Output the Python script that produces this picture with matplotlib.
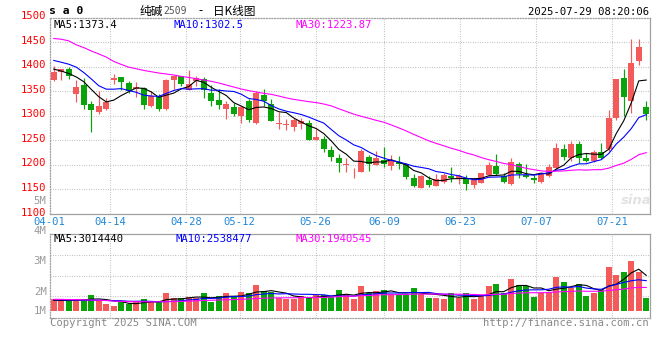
import numpy as np
import pandas as pd
import matplotlib
matplotlib.use("Agg")
import matplotlib.pyplot as plt

# ---------------- data ----------------
tick_labels = ['04-01', '04-14', '04-28', '05-12', '05-26', '06-09', '06-23', '07-07', '07-21']
tick_idx = [0, 8, 18, 25, 35, 44, 54, 64, 74]

opens = [1373, 1389, 1395, 1345, 1363, 1324.5, 1307, 1314, 1373, 1379,
         1367, 1354, 1356, 1320, 1339, 1314, 1373, 1380, 1353, 1370,
         1375, 1346, 1331, 1314, 1318, 1299, 1329, 1284, 1343, 1324.5,
         1282.5, 1280, 1276, 1283, 1284, 1250, 1253, 1229.5, 1212.5, 1200,
         1184, 1185, 1214.6, 1199, 1208.5, 1197, 1205.8, 1200.3, 1172, 1151.5,
         1167.8, 1156.3, 1165, 1176.6, 1171, 1169.8, 1158.3, 1163, 1178.6, 1196.3,
         1176.6, 1161, 1201.7, 1178.6, 1172, 1165, 1176.6, 1193.6, 1231, 1214,
         1241, 1214, 1207, 1226, 1231, 1295.3, 1376.7, 1329.2, 1410.7, 1317.7]
highs = [1402, 1396, 1399, 1373, 1377, 1329, 1350, 1335, 1386, 1379,
         1371, 1369, 1358, 1350, 1344, 1375, 1383, 1381, 1394, 1380,
         1378, 1363, 1354, 1329, 1326, 1320, 1334, 1350, 1354, 1333,
         1307, 1293, 1295, 1295, 1290, 1272, 1258, 1238, 1222, 1214,
         1192, 1232, 1218.7, 1227, 1235, 1218.7, 1217, 1203.7, 1180, 1178.6,
         1176.6, 1180, 1183.4, 1195, 1180, 1178.6, 1173, 1182, 1205.8, 1220.7,
         1182, 1212.6, 1205.8, 1200.3, 1178.6, 1183.4, 1200.3, 1244.4, 1241, 1247.8,
         1249, 1222.7, 1228.8, 1244.4, 1311, 1374.7, 1395, 1456, 1456, 1330.6]
lows = [1370, 1373, 1375, 1327, 1314, 1266, 1304, 1311, 1365, 1353,
        1346, 1337, 1314, 1317, 1309, 1312, 1355, 1360, 1353, 1360,
        1335, 1319, 1314, 1294, 1299, 1284, 1287, 1282, 1320, 1289,
        1272, 1270, 1268, 1272, 1251, 1250, 1225, 1207, 1185, 1185,
        1173, 1185, 1187, 1199, 1195, 1188, 1191.5, 1170, 1154, 1151.5,
        1155, 1156.3, 1163, 1164, 1161, 1148, 1151.5, 1161.7, 1176.6, 1178.6,
        1163, 1158.3, 1172, 1172, 1161.7, 1163, 1174.6, 1190, 1209.2, 1207,
        1202.4, 1205, 1205.8, 1210.5, 1227.5, 1292, 1298.7, 1305.5, 1404, 1290.6]
closes = [1390, 1395, 1380, 1359, 1322, 1312, 1320, 1327, 1377, 1369,
          1351, 1359, 1322, 1341, 1314, 1373, 1380, 1365, 1365, 1377,
          1353, 1329, 1322, 1324.5, 1304, 1318, 1291, 1346, 1329, 1289,
          1285, 1282, 1290, 1288.5, 1251, 1256, 1231, 1215, 1202.5, 1201,
          1185.5, 1227.5, 1200.3, 1212.5, 1200.3, 1208.5, 1200.3, 1174.6, 1155.6, 1176,
          1158.3, 1170.5, 1178.6, 1172, 1176.6, 1159.6, 1168.5, 1182, 1199, 1180,
          1164.4, 1205.8, 1181.3, 1175.3, 1168.5, 1181.3, 1195.6, 1233, 1216, 1243,
          1214, 1207, 1226, 1214, 1295.3, 1374.7, 1337.4, 1407.3, 1439.8, 1304]
# volume, millions of lots
volumes = [0.88, 0.73, 0.73, 0.88, 0.88, 1.27, 0.82, 0.46, 0.29, 0.61,
           0.43, 0.70, 0.91, 0.61, 0.61, 1.44, 0.97, 0.97, 1.06, 0.97,
           1.44, 0.67, 1.18, 1.44, 1.06, 1.56, 1.44, 2.16, 1.62, 1.50,
           0.97, 0.91, 0.91, 1.18, 1.06, 1.27, 1.27, 1.06, 1.71, 1.36,
           0.88, 2.07, 1.41, 1.62, 1.71, 1.36, 1.27, 1.27, 1.89, 1.36,
           1.03, 1.03, 0.88, 1.41, 0.97, 1.41, 0.91, 1.18, 2.07, 2.25,
           1.41, 2.69, 2.16, 2.07, 1.12, 1.41, 1.47, 2.87, 2.45, 1.86,
           2.25, 1.18, 1.41, 1.71, 3.79, 3.05, 3.34, 4.30, 3.34, 1.03]

# moving-average values before enough history is visible
ma5_head = [1395, 1391, 1386, 1379]
ma10_head = [1412.7, 1409, 1405, 1399, 1388, 1375, 1361, 1354, 1354]
ma30_head = [1457.5, 1456, 1452.7, 1444.6, 1439, 1432, 1426, 1419.5, 1410.7, 1404.5,
             1399, 1395.7, 1392.3, 1389.6, 1387, 1385, 1383, 1380, 1378, 1375.4,
             1372.7, 1370, 1366.6, 1362.5, 1358.4, 1354.3, 1351, 1348.2, 1345.5]
vma5_head = [0.80, 0.78, 0.78, 0.80]
vma10_head = [0.85, 0.84, 0.82, 0.82, 0.80, 0.80, 0.79, 0.78, 0.76]
vma30_head = [0.88, 0.88, 0.86, 0.85, 0.84, 0.82, 0.80, 0.78, 0.72, 0.70,
              0.68, 0.67, 0.67, 0.66, 0.66, 0.67, 0.68, 0.70, 0.72, 0.75,
              0.78, 0.80, 0.82, 0.84, 0.86, 0.88, 0.92, 0.95, 0.98]

price_ticks = [1100, 1150, 1200, 1250, 1300, 1350, 1400, 1450, 1500]
vol_tick_labels = ['5M', '4M', '3M', '2M', '1M']

title_name = '纯碱'
title_code = '2509'
title_dash = '-'
title_rest = '日K线图'
symbol = 's a 0'
stamp = '2025-07-29 08:20:06'
price_ma_text = ['MA5:1373.4', 'MA10:1302.5', 'MA30:1223.87']
vol_ma_text = ['MA5:3014440', 'MA10:2538477', 'MA30:1940545']

# ---------------- helpers ----------------
def ma(series, n, head):
    s = pd.Series(series, dtype=float).rolling(n).mean().to_numpy()
    s[:len(head)] = head
    return s

W, H = 660, 360
RED = '#f55a5a'
GREEN = '#0aa30a'
GRID = '#b4b4b4'
FRAME = '#a0a0a0'
MONO = 'DejaVu Sans Mono'
CJK = ['Noto Sans CJK SC', 'DejaVu Sans']

fig = plt.figure(figsize=(W / 100, H / 100), dpi=100)
fig.patch.set_facecolor('white')

def rect(l, t, r, b):
    return [l / W, 1 - b / H, (r - l) / W, (b - t) / H]

def T(x, y, s, **kw):
    kw.setdefault('family', MONO)
    kw.setdefault('fontsize', 7.6)
    kw.setdefault('va', 'center')
    fig.text(x / W, 1 - y / H, s, **kw)

ax = fig.add_axes(rect(50, 17.7, 650, 213.5))
axv = fig.add_axes(rect(50, 234.3, 650, 317.7))

n = len(closes)
x = np.arange(n)
o = np.array(opens, float); c = np.array(closes, float)
hi = np.array(highs, float); lo = np.array(lows, float)
up = c >= o
cols = np.where(up, RED, GREEN)

# date grid: sina spreads the date grid over (n-1) slots
def grid_x(i):
    px = 49.45 + 7.606 * i
    return (px - 50) / 7.5 - 0.5

dots = (0, (0.72, 1.44))
for a in (ax, axv):
    a.set_xlim(-0.5, n - 0.5)
    for gi in tick_idx[1:]:
        a.axvline(grid_x(gi), color=GRID, lw=0.8, ls=dots, zorder=0)
    a.set_xticks([]); a.set_yticks([])
    for sp in a.spines.values():
        sp.set_color(FRAME); sp.set_linewidth(0.9)
    a.spines['left'].set_linestyle(dots)

ax.spines['top'].set_linestyle(dots)
axv.spines['bottom'].set_linestyle(dots)

# price panel
ax.set_ylim(1100, 1500)
for p in price_ticks[1:-1]:
    ax.axhline(p, color=GRID, lw=0.8, ls=dots, zorder=0)

ax.vlines(x, lo, hi, colors=cols, lw=0.85, zorder=2)
body_lo = np.minimum(o, c)
body_h = np.maximum(np.abs(c - o), 1.6)
ax.bar(x, body_h, bottom=body_lo, width=0.78, color=cols, linewidth=0, zorder=3)

LW = 0.8
ax.plot(x, ma(closes, 5, ma5_head), color='black', lw=LW, zorder=4)
ax.plot(x, ma(closes, 10, ma10_head), color='#0000ff', lw=LW, zorder=4)
ax.plot(x, ma(closes, 30, ma30_head), color='#ff00ff', lw=LW, zorder=4)

# volume panel
k = 0.089  # millions per pixel
vbase = -0.13
v_lo = vbase - 7 * k
v_hi = vbase + (310.7 - 234.3) * k
axv.set_ylim(v_lo, v_hi)
for yy in (255.0, 275.7, 296.0):
    axv.axhline(vbase + (310.7 - yy) * k, color=GRID, lw=0.8, ls=dots, zorder=0)
vol = np.array(volumes, float)
axv.bar(x, vol - vbase, bottom=vbase, width=0.85, color=cols, linewidth=0, zorder=2)
axv.plot(x, ma(volumes, 5, vma5_head), color='black', lw=LW, zorder=4)
axv.plot(x, ma(volumes, 10, vma10_head), color='#0000ff', lw=LW, zorder=4)
axv.plot(x, ma(volumes, 30, vma30_head), color='#ff00ff', lw=LW, zorder=4)

# ---------------- texts ----------------
for p in price_ticks:
    ypx = 17.7 + (1500 - p) * (213.5 - 17.7) / 400 - 1.5
    if p == 1100:
        ypx = 212.5
    T(46.5, ypx, str(p), ha='right', color='#ff0000')

for lab, ypx in zip(vol_tick_labels, [200.7, 230.7, 261.0, 291.7, 310.7]):
    T(46.5, ypx, lab, ha='right', color='#9a9a9a')

for lab, gi in zip(tick_labels, tick_idx):
    px = 49.45 + 7.606 * gi
    T(px, 221.8, lab, ha='center', color='#1f86d6')

T(49, 11.5, symbol, ha='left', color='black', fontsize=8.2, weight='bold')
T(140, 11.0, title_name, ha='left', color='black', fontsize=8.4, family=CJK)
T(163, 11.5, title_code, ha='left', color='#555555', fontsize=7.0)
T(200, 11.0, title_dash, ha='center', color='black', fontsize=8.4, family=CJK)
T(213, 11.0, title_rest, ha='left', color='black', fontsize=8.4, family=CJK)
T(649, 12.3, stamp, ha='right', color='black')

for s, xp, col in zip(price_ma_text, [54, 174, 295], ['black', '#0000ff', '#ff00ff']):
    T(xp, 24.5, s, ha='left', color=col)
for s, xp, col in zip(vol_ma_text, [54, 175, 295], ['black', '#0000ff', '#ff00ff']):
    T(xp, 238.5, s, ha='left', color=col)

T(50, 323.5, 'Copyright 2025 SINA.COM', ha='left', color='#888888')
T(649, 323.5, 'http://finance.sina.com.cn', ha='right', color='#888888')

# faint sina watermark
T(636, 200, 'sina', ha='center', color='#e2e2e2', fontsize=9.5, family='DejaVu Sans',
  style='italic', weight='bold')

fig.savefig('out.png', dpi=100, facecolor='white')
